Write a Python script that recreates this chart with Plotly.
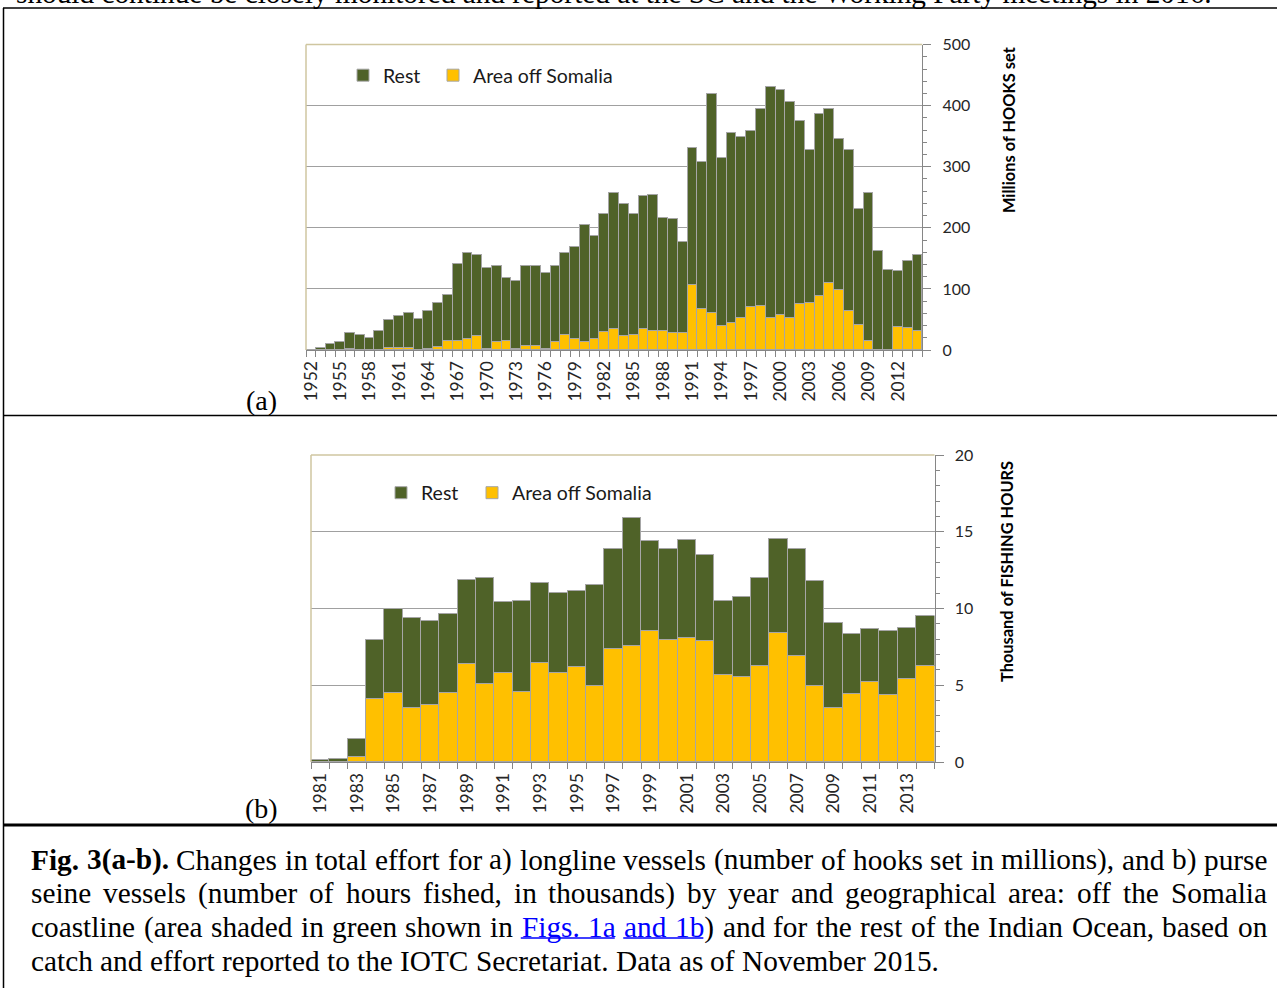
import plotly.graph_objects as go

# ---------------- data ----------------
years_a = list(range(1952, 2015))
somalia_a = [0, 0, 0, 0, 2, 0, 0, 0, 4, 4,
             4, 0, 2, 6, 16, 15, 18, 24, 2, 13,
             15, 2, 8, 8, 2, 14, 26, 18, 14, 19,
             30, 35, 23, 26, 35, 31, 32, 28, 29, 107,
             67, 62, 40, 45, 53, 71, 73, 53, 58, 53,
             76, 78, 89, 110, 99, 64, 42, 15, 0, 0,
             38, 36, 32]
rest_a = [1, 4, 11, 14, 26, 25, 20, 32, 46, 53,
          58, 52, 63, 72, 74, 127, 142, 133, 133, 126,
          103, 112, 130, 130, 125, 125, 133, 152, 192, 168,
          193, 222, 216, 198, 218, 223, 184, 187, 148, 225,
          241, 358, 275, 311, 297, 289, 322, 378, 369, 354,
          299, 250, 298, 285, 247, 264, 189, 242, 162, 131,
          92, 111, 125]
ticks_a = list(range(1952, 2015, 3))

years_b = list(range(1981, 2015))
somalia_b = [0, 0, 0.3, 4.1, 4.52, 3.54, 3.69, 4.52, 6.38, 5.08,
             5.82, 4.58, 6.43, 5.82, 6.17, 4.97, 7.39, 7.54, 8.53, 7.95,
             8.1, 7.88, 5.65, 5.54, 6.25, 8.38, 6.93, 4.97, 3.54, 4.43,
             5.21, 4.39, 5.39, 6.28]
rest_b = [0.1, 0.22, 1.22, 3.83, 5.47, 5.84, 5.52, 5.15, 5.46, 6.93,
          4.6, 5.93, 5.26, 5.19, 4.99, 6.54, 6.51, 8.38, 5.89, 5.95,
          6.36, 5.63, 4.84, 5.19, 5.72, 6.13, 6.93, 6.82, 5.5, 3.93,
          3.44, 4.14, 3.36, 3.21]
ticks_b = list(range(1981, 2015, 2))

top_text = "should continue be closely monitored and reported at the SC and the Working Party meetings in 2016."

# ---------------- helpers ----------------
W, H = 1277, 988
def px(x): return x / W
def py(y): return 1 - y / H

GREEN = "#4F6228"
YELLOW = "#FFC000"
EDGE = "#A6A6A6"
AXIS = "#868686"
GRID = "#A0A0A0"
TAN = "#CFC6A0"
XTICKFONT = dict(family="Lato", size=17.5, color="#262626")
YTICKFONT = dict(family="Lato", size=16, color="#262626")
SERIF = "Liberation Serif"
FS = 29.3

fig = go.Figure()
for xs, som, rest, xa, ya, lg_rest, lg_som in [
        (years_a, somalia_a, rest_a, "x", "y", "legend", "legend2"),
        (years_b, somalia_b, rest_b, "x2", "y2", "legend3", "legend4")]:
    fig.add_trace(go.Bar(x=xs, y=som, name="Area off Somalia", xaxis=xa, yaxis=ya, legend=lg_som,
                         marker=dict(color=YELLOW, line=dict(color=EDGE, width=1)),
                         hoverinfo="skip"))
    fig.add_trace(go.Bar(x=xs, y=rest, name="Rest", xaxis=xa, yaxis=ya, legend=lg_rest,
                         marker=dict(color=GREEN, line=dict(color=EDGE, width=1)),
                         hoverinfo="skip"))

# plot-area boxes (pixels)
A = dict(x0=306, x1=922.3, y0=44.6, y1=350)
B = dict(x0=311, x1=934.5, y0=455, y1=762)

def xaxis(box, years, tickv):
    return dict(domain=[px(box["x0"]), px(box["x1"])],
                range=[years[0] - 0.5, years[-1] + 0.5],
                tickmode="array", tickvals=tickv, ticktext=[str(t) for t in tickv],
                tickangle=-90, ticks="", showgrid=False, zeroline=False,
                showline=True, linecolor=AXIS, linewidth=1,
                tickfont=XTICKFONT, ticklabelstandoff=3, automargin=False,
                minor=dict(tickmode="linear", tick0=years[0] - 0.5, dtick=1,
                           ticks="outside", ticklen=6, tickcolor=AXIS, tickwidth=1,
                           showgrid=False),
                fixedrange=True)

def yaxis(box, anchor, rng, dt, mdt, standoff):
    return dict(domain=[py(box["y1"]), py(box["y0"])], range=rng, anchor=anchor,
                side="right", tickmode="linear", tick0=0, dtick=dt,
                ticks="outside", ticklen=8, tickcolor=AXIS, tickwidth=1,
                showline=True, linecolor=AXIS, linewidth=1,
                showgrid=True, gridcolor=GRID, gridwidth=1, zeroline=False,
                tickfont=YTICKFONT, ticklabelstandoff=standoff, automargin=False,
                minor=dict(dtick=mdt, ticks="outside", ticklen=4, tickcolor=AXIS,
                           tickwidth=1, showgrid=False),
                fixedrange=True)

legfont = dict(family="Lato", size=19.5, color="#1a1a1a")
def leg(x, y):
    return dict(orientation="h", x=px(x), y=py(y), xanchor="left", yanchor="middle",
                xref="container", yref="container",
                font=legfont, bgcolor="rgba(0,0,0,0)", borderwidth=0, itemwidth=30)

fig.update_layout(
    width=W, height=H, margin=dict(l=0, r=0, t=0, b=0, autoexpand=False),
    paper_bgcolor="white", plot_bgcolor="white",
    barmode="stack", bargap=0, showlegend=True,
    xaxis=dict(xaxis(A, years_a, ticks_a), anchor="y"),
    yaxis=yaxis(A, "x", [0, 500], 100, 20, 8),
    xaxis2=dict(xaxis(B, years_b, ticks_b), anchor="y2"),
    yaxis2=yaxis(B, "x2", [0, 20], 5, 1, 8),
    legend=leg(343, 75.5),
    legend2=leg(433, 75.5),
    legend3=leg(381, 493),
    legend4=leg(472, 493),
)

shapes = []
# tan plot-area borders (top + left)
for box in (A, B):
    shapes.append(dict(type="line", xref="paper", yref="paper", layer="above",
                       x0=px(box["x0"]), x1=px(box["x1"]), y0=py(box["y0"]), y1=py(box["y0"]),
                       line=dict(color=TAN, width=1.5)))
    shapes.append(dict(type="line", xref="paper", yref="paper", layer="above",
                       x0=px(box["x0"]), x1=px(box["x0"]), y0=py(box["y0"]), y1=py(box["y1"]),
                       line=dict(color=TAN, width=1.5)))
# document table borders
def hline(y, w, x0=3, x1=1277):
    shapes.append(dict(type="line", xref="paper", yref="paper", x0=px(x0), x1=px(x1),
                       y0=py(y), y1=py(y), line=dict(color="black", width=w)))
hline(8, 1.5)
hline(415.5, 1.5)
hline(825, 3)
shapes.append(dict(type="line", xref="paper", yref="paper", x0=px(3.5), x1=px(3.5),
                   y0=py(8), y1=py(988), line=dict(color="black", width=1.5)))

annotations = []
def ann(text, x, y, size, family="Lato", color="black", xanchor="center", angle=0, yanchor="middle"):
    annotations.append(dict(text=text, x=px(x), y=py(y), xref="paper", yref="paper",
                            showarrow=False, xanchor=xanchor, yanchor=yanchor, textangle=angle,
                            borderpad=0, font=dict(family=family, size=size, color=color)))

ann("<b>Millions of HOOKS set</b>", 1009, 130, 16.4, angle=-90)
ann("<b>Thousand of FISHING HOURS</b>", 1006, 572, 16.4, angle=-90)
ann("(a)", 261.5, 400, 28, family=SERIF)
ann("(b)", 261.5, 808, 28, family=SERIF)
# cut-off line of the preceding page text (only its lower edge is visible)
ann(top_text, 15, -7, FS, family=SERIF, xanchor="left")

# ---------------- caption (justified, Times metrics) ----------------
TR = {' ': 250, '!': 333, '(': 333, ')': 333, ',': 250, '-': 333, '.': 250, ':': 278,
      '0': 500, '1': 500, '2': 500, '3': 500, '4': 500, '5': 500, '6': 500, '7': 500, '8': 500, '9': 500,
      'A': 722, 'B': 667, 'C': 667, 'D': 722, 'E': 611, 'F': 556, 'G': 722, 'H': 722, 'I': 333,
      'J': 389, 'K': 722, 'L': 611, 'M': 889, 'N': 722, 'O': 722, 'P': 556, 'Q': 722, 'R': 667,
      'S': 556, 'T': 611, 'U': 722, 'V': 722, 'W': 944, 'X': 722, 'Y': 722, 'Z': 611,
      'a': 444, 'b': 500, 'c': 444, 'd': 500, 'e': 444, 'f': 333, 'g': 500, 'h': 500, 'i': 278,
      'j': 278, 'k': 500, 'l': 278, 'm': 778, 'n': 500, 'o': 500, 'p': 500, 'q': 500, 'r': 333,
      's': 389, 't': 278, 'u': 500, 'v': 500, 'w': 722, 'x': 500, 'y': 500, 'z': 444}
TB = dict(TR)
TB.update({'F': 611, 'a': 500, 'b': 556, 'g': 500, 'i': 278, '3': 500, '(': 333, ')': 333, '-': 333, '.': 250})

def tw(s, bold=False):
    t = TB if bold else TR
    return sum(t.get(c, 500) for c in s) / 1000.0 * FS

BLUE = "#0000FF"
line1 = [("Fig.", "<b>Fig.</b>", True), ("3(a-b).", "<b>3(a-b).</b>", True)] + \
    [(w, w, False) for w in "Changes in total effort for a) longline vessels (number of hooks set in millions), and b) purse".split()]
line2 = [(w, w, False) for w in "seine vessels (number of hours fished, in thousands) by year and geographical area: off the Somalia".split()]
line3 = [(w, w, False) for w in "coastline (area shaded in green shown in".split()] + \
    [("Figs.", "<span style='color:%s'>Figs.</span>" % BLUE, False),
     ("1a", "<span style='color:%s'>1a</span>" % BLUE, False),
     ("and", "<span style='color:%s'>and</span>" % BLUE, False),
     ("1b)", "<span style='color:%s'>1b</span>)" % BLUE, False)] + \
    [(w, w, False) for w in "and for the rest of the Indian Ocean, based on".split()]
line4 = [(w, w, False) for w in "catch and effort reported to the IOTC Secretariat. Data as of November 2015.".split()]

X0, X1 = 30, 1266
line_y = [859.5, 893, 927, 961]
pos3 = []
for li, (toks, justify) in enumerate([(line1, True), (line2, True), (line3, True), (line4, False)]):
    widths = [tw(p, b) for p, _, b in toks]
    gap = (X1 - X0 - sum(widths)) / (len(toks) - 1) if justify else tw(" ")
    x = X0
    for (plain, html, bold), w in zip(toks, widths):
        ann(html, x, line_y[li], FS, family=SERIF, xanchor="left")
        if li == 2:
            pos3.append((plain, x, w))
        x += w + gap

# underlines for the two links ("Figs. 1a" and "and 1b")
ul_y = line_y[2] + 11
idx = [p[0] for p in pos3].index("Figs.")
f_x = pos3[idx][1]
a_end = pos3[idx + 1][1] + pos3[idx + 1][2]
and_x = pos3[idx + 2][1]
b_end = pos3[idx + 3][1] + tw("1b")
for x0, x1 in [(f_x, a_end), (and_x, b_end)]:
    shapes.append(dict(type="line", xref="paper", yref="paper", x0=px(x0), x1=px(x1),
                       y0=py(ul_y), y1=py(ul_y), line=dict(color=BLUE, width=1.5)))

fig.update_layout(shapes=shapes, annotations=annotations)
fig.write_html("out.html", config={"displayModeBar": False},
               post_script="document.body.style.margin='0';document.body.style.overflow='hidden';")
